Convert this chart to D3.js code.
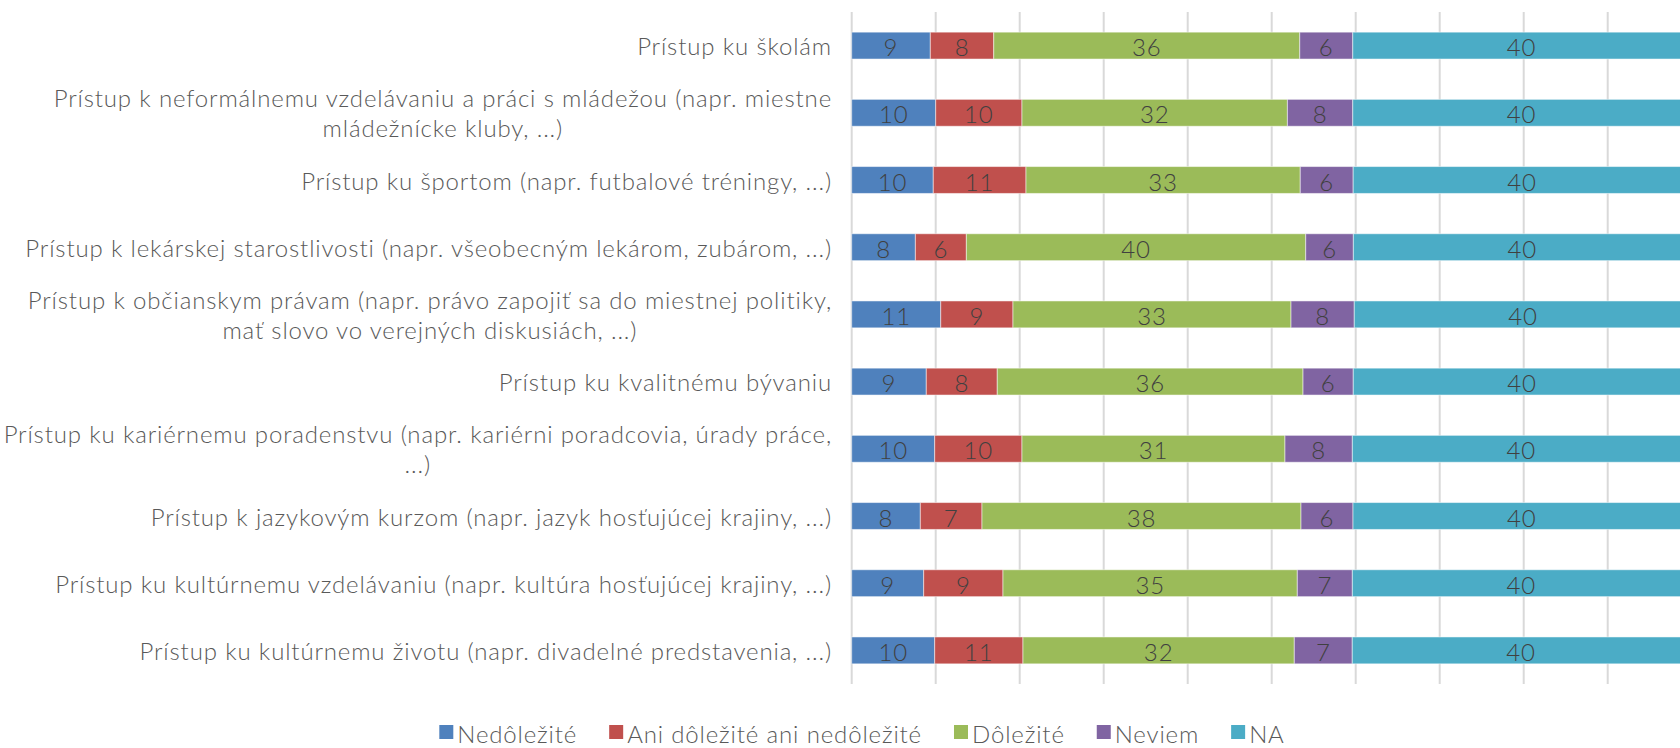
<!DOCTYPE html>
<html>
<head>
<meta charset="utf-8">
<script src="https://cdn.jsdelivr.net/npm/d3@7"></script>
<style>
  body { margin: 0; background: #fff; overflow: hidden; }
  text { font-family: Lato, "Open Sans", sans-serif; font-weight: 300; letter-spacing: 0.85px; }
</style>
</head>
<body>
<svg id="chart"></svg>
<script>
  // categories, "\n" marks the line break used in the original
  var categories = [
    "Prístup ku školám",
    "Prístup k neformálnemu vzdelávaniu a práci s mládežou (napr. miestne\nmládežnícke kluby, ...)",
    "Prístup ku športom (napr. futbalové tréningy, ...)",
    "Prístup k lekárskej starostlivosti (napr. všeobecným lekárom, zubárom, ...)",
    "Prístup k občianskym právam (napr. právo zapojiť sa do miestnej politiky,\nmať slovo vo verejných diskusiách, ...)",
    "Prístup ku kvalitnému bývaniu",
    "Prístup ku kariérnemu poradenstvu (napr. kariérni poradcovia, úrady práce,\n...)",
    "Prístup k jazykovým kurzom (napr. jazyk hosťujúcej krajiny, ...)",
    "Prístup ku kultúrnemu vzdelávaniu (napr. kultúra hosťujúcej krajiny, ...)",
    "Prístup ku kultúrnemu životu (napr. divadelné predstavenia, ...)"
  ];

  var seriesNames = ["Nedôležité", "Ani dôležité ani nedôležité", "Dôležité", "Neviem", "NA"];
  var seriesColors = ["#4F81BD", "#C0504D", "#9BBB59", "#8064A2", "#4BACC6"];

  var nedolezite = [9.36, 10.0, 9.71, 7.58, 10.6, 8.88, 9.88, 8.17, 8.57, 9.88];
  var aniAni     = [7.55, 10.27, 11.04, 6.07, 8.6, 8.45, 10.39, 7.34, 9.44, 10.51];
  var dolezite   = [36.43, 31.6, 32.65, 40.4, 33.1, 36.4, 31.31, 37.98, 35.04, 32.3];
  var neviem     = [6.31, 7.78, 6.3, 5.67, 7.53, 5.98, 8.02, 6.19, 6.55, 6.9];
  var na         = [40.2, 40.2, 40.2, 40.2, 40.2, 40.2, 40.2, 40.2, 40.2, 40.2];

  var xTicks = [0, 10, 20, 30, 40, 50, 60, 70, 80, 90, 100];

  var W = 1680, H = 748;
  var margin = {top: 12, left: 851.7, bottom: 64};
  var plotH = H - margin.top - margin.bottom;

  var svg = d3.select("#chart").attr("width", W).attr("height", H);

  var rows = categories.map(function(c, i) {
    return {cat: c, "Nedôležité": nedolezite[i], "Ani dôležité ani nedôležité": aniAni[i],
            "Dôležité": dolezite[i], "Neviem": neviem[i], "NA": na[i]};
  });

  var xScale = d3.scaleLinear().domain([0, 100]).range([margin.left, margin.left + 840]);
  var yScale = d3.scaleBand()
      .domain(categories)
      .range([margin.top, margin.top + plotH])
      .paddingInner(0.6)
      .paddingOuter(0.3);

  // gridlines
  svg.append("g")
    .selectAll("line")
    .data(xTicks)
    .enter()
    .append("line")
    .attr("x1", function(d) { return xScale(d); })
    .attr("x2", function(d) { return xScale(d); })
    .attr("y1", margin.top)
    .attr("y2", margin.top + plotH)
    .attr("stroke", "#d9d9d9")
    .attr("stroke-width", 2);

  var stacked = d3.stack().keys(seriesNames)(rows);
  var fmt = d3.format(".0f");

  var layers = svg.append("g").selectAll("g.layer")
    .data(stacked)
    .enter()
    .append("g")
    .attr("class", "layer")
    .attr("fill", function(d, i) { return seriesColors[i]; });

  layers.selectAll("rect")
    .data(function(d) { return d; })
    .enter()
    .append("rect")
    .attr("x", function(d) { return xScale(d[0]); })
    .attr("width", function(d) { return xScale(d[1]) - xScale(d[0]); })
    .attr("y", function(d) { return yScale(d.data.cat); })
    .attr("height", yScale.bandwidth())
    .attr("stroke", "#ffffff")
    .attr("stroke-opacity", 0.5)
    .attr("stroke-width", 1);

  layers.selectAll("text")
    .data(function(d) { return d; })
    .enter()
    .append("text")
    .attr("x", function(d) { return (xScale(d[0]) + xScale(d[1])) / 2; })
    .attr("y", function(d) { return yScale(d.data.cat) + yScale.bandwidth() / 2 + 1; })
    .attr("text-anchor", "middle")
    .attr("dominant-baseline", "central")
    .attr("fill", "#404040")
    .style("font-size", "24px")
    .text(function(d) { return fmt(d[1] - d[0]); });

  // category labels (wrapped lines centred under the first line, as in the original)
  var labelRight = 832;
  var lineH = 30;
  var labels = svg.append("g").selectAll("text")
    .data(categories)
    .enter()
    .append("text")
    .attr("fill", "#595959")
    .attr("text-anchor", "middle")
    .style("font-size", "24px");

  labels.each(function(c) {
    var t = d3.select(this);
    var lines = c.split("\n");
    var cy = yScale(c) + yScale.bandwidth() / 2;
    lines.forEach(function(l, k) {
      t.append("tspan")
        .attr("y", cy + (k - (lines.length - 1) / 2) * lineH)
        .attr("dominant-baseline", "central")
        .text(l);
    });
    var maxW = 0;
    t.selectAll("tspan").each(function() { maxW = Math.max(maxW, this.getComputedTextLength()); });
    t.selectAll("tspan").attr("x", labelRight - maxW / 2);
  });

  // legend
  var legend = svg.append("g");
  var lx = 0;
  seriesNames.forEach(function(s, i) {
    var g = legend.append("g").attr("transform", "translate(" + lx + ",0)");
    g.append("rect").attr("x", 0).attr("y", -7).attr("width", 14).attr("height", 14)
      .attr("fill", seriesColors[i]);
    var tx = g.append("text").attr("x", 18).attr("y", 1)
      .attr("dominant-baseline", "central")
      .attr("fill", "#595959")
      .style("font-size", "24px")
      .text(s);
    lx += 18 + tx.node().getComputedTextLength() + 32;
  });
  var legendW = lx - 32;
  legend.attr("transform", "translate(" + (862 - legendW / 2) + ",732)");
</script>
</body>
</html>
